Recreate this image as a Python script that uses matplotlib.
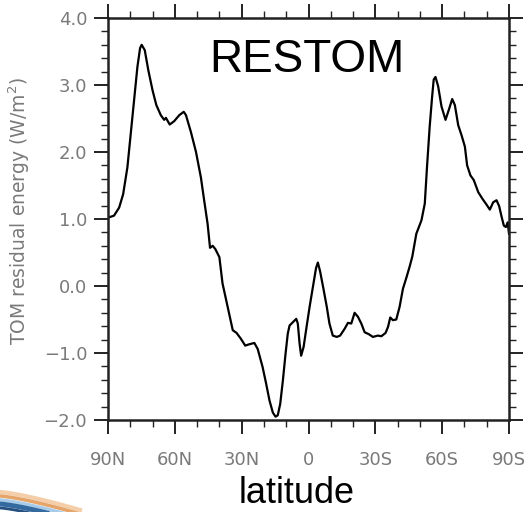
import numpy as np
import matplotlib
matplotlib.use('Agg')
import matplotlib.pyplot as plt
from matplotlib.ticker import MultipleLocator, FixedLocator, FuncFormatter
from matplotlib.lines import Line2D

# zonal mean TOM residual (lat in deg, + = N)
lat = [90, 87.3, 85, 83.2, 81.3, 79.8, 78.3, 76.8, 75.6, 74.9, 73.5, 71.9, 70,
       68.3, 66.3, 64.8, 64, 62.3, 60.3, 58, 56, 55, 52.8, 50.5, 48.3, 46.8,
       45.3, 44.2, 43, 41.8, 40, 38.6, 36.3, 34, 32.3, 30.3, 28.4, 26.6, 24.3,
       22.8, 20.6, 19, 17.5, 16, 14.8, 13.8, 12.7, 11.5, 10.3, 9.3, 8.5, 7,
       5.5, 4.8, 4, 3.3, 2.2, 1, -0.5, -2, -3.4, -4.2, -5.2, -6.7, -8.2, -9.4,
       -10.9, -12.7, -14.2, -16.2, -17.7, -19.2, -20.7, -22.2, -23.7, -25.2,
       -27.1, -28.9, -31.2, -32.7, -34.6, -35.7, -36.7, -37.9, -39.4, -40.9,
       -42.4, -43.9, -45.4, -46.6, -48.4, -50.7, -52.2, -53.2, -54.4, -55.5,
       -56.2, -57, -58.2, -59.7, -61.5, -63, -64.5, -65.7, -67.2, -68.7,
       -70.2, -71.2, -72.7, -74.2, -76.2, -78.1, -79.6, -81.4, -82.9, -84.4,
       -85.6, -86.7, -87.7, -88.6, -89.4, -90]
restom = [1.02, 1.05, 1.17, 1.37, 1.77, 2.27, 2.77, 3.27, 3.55, 3.6, 3.52, 3.22,
          2.92, 2.7, 2.55, 2.48, 2.51, 2.41, 2.46, 2.55, 2.6, 2.55, 2.3, 2.0,
          1.62, 1.27, 0.93, 0.57, 0.6, 0.55, 0.43, 0.04, -0.31, -0.66, -0.7,
          -0.79, -0.89, -0.87, -0.85, -0.94, -1.21, -1.46, -1.71, -1.89, -1.95,
          -1.93, -1.76, -1.41, -1.01, -0.71, -0.59, -0.54, -0.49, -0.56, -0.86,
          -1.04, -0.91, -0.64, -0.31, -0.01, 0.27, 0.35, 0.22, -0.04, -0.31,
          -0.56, -0.74, -0.76, -0.74, -0.64, -0.55, -0.56, -0.4, -0.46, -0.56,
          -0.69, -0.72, -0.76, -0.74, -0.75, -0.7, -0.61, -0.47, -0.51, -0.5,
          -0.31, -0.04, 0.12, 0.29, 0.44, 0.78, 0.98, 1.23, 1.78, 2.38, 2.83,
          3.08, 3.12, 2.98, 2.68, 2.48, 2.63, 2.79, 2.7, 2.4, 2.25, 2.08, 1.8,
          1.65, 1.58, 1.4, 1.3, 1.23, 1.14, 1.25, 1.28, 1.19, 1.03, 0.9, 0.88,
          0.95, 0.78]

xticks = [90, 60, 30, 0, -30, -60, -90]
xticklabels = ['90N', '60N', '30N', '0', '30S', '60S', '90S']

grey = '#7a7a7a'

fig = plt.figure(figsize=(5.28, 5.12), dpi=100)
ax = fig.add_axes([108 / 528, 1 - 420 / 512, 401 / 528, 402 / 512])

ax.plot(lat, restom, color='black', lw=1.6)

ax.set_xlim(90, -90)
ax.set_ylim(-2.0, 4.0)
ax.xaxis.set_major_locator(FixedLocator(xticks))
ax.set_xticklabels(xticklabels)
ax.xaxis.set_minor_locator(MultipleLocator(10))
ax.yaxis.set_major_locator(MultipleLocator(1.0))
ax.yaxis.set_minor_locator(MultipleLocator(0.2))
# minus sign as in the original
ax.yaxis.set_major_formatter(FuncFormatter(
    lambda v, p: ('%.1f' % v).replace('-', '\u2212')))

ax.tick_params(which='both', direction='out', top=True, right=True,
               labeltop=False, labelright=False, color='#222222', width=1.4)
ax.tick_params(which='major', length=10, labelsize=13, labelcolor=grey)
ax.tick_params(which='minor', length=5, width=1.0)
ax.tick_params(axis='x', which='major', pad=12)
ax.tick_params(axis='y', which='major', pad=5)
for sp in ax.spines.values():
    sp.set_linewidth(1.8)
    sp.set_color('#222222')

ax.set_ylabel('TOM residual energy (W/m$^2$)', color=grey, fontsize=13.5)
ax.yaxis.set_label_coords(-0.19, 0.52)

ax.text(0.496, 0.866, 'RESTOM', transform=ax.transAxes, ha='center',
        va='baseline', fontsize=33, family='Liberation Sans')

fig.text(297 / 528, 1 - 503 / 512, 'latitude', ha='center', va='baseline',
         fontsize=26, family='Liberation Sans')

# corner swoosh from the slide template
t = np.linspace(0, 1, 50)
for off, col, w in [(0, '#f3c9a0', 3), (4, '#e39a5a', 2.5), (8, '#9ec6e6', 2.5),
                    (12, '#1f5a96', 3.5), (16, '#0d3d73', 2)]:
    xs = t * 80
    ys = 512 - (492 + off + 18 * t ** 1.3)
    fig.add_artist(Line2D(xs / 528, ys / 512, color=col, lw=w, alpha=0.9))

fig.savefig('out.png', dpi=100)
